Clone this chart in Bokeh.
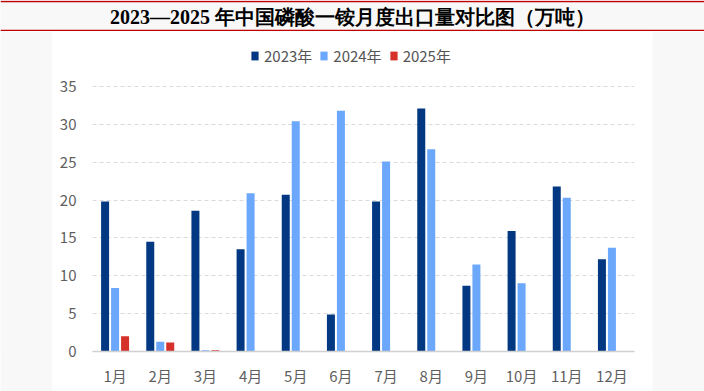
from bokeh.plotting import figure
from bokeh.models import ColumnDataSource, FactorRange, Range1d, FixedTicker, Legend, LegendItem
from bokeh.transform import dodge
from bokeh.layouts import column, row
from bokeh.core.properties import value
from bokeh.embed import file_html
from bokeh.resources import INLINE

# ---- data ----
months = ["1月", "2月", "3月", "4月", "5月", "6月", "7月", "8月", "9月", "10月", "11月", "12月"]
y2023 = [19.8, 14.5, 18.6, 13.5, 20.7, 4.9, 19.8, 32.1, 8.7, 15.9, 21.8, 12.2]
y2024 = [8.4, 1.3, 0.15, 20.9, 30.4, 31.8, 25.1, 26.7, 11.5, 9.0, 20.3, 13.7]
months2025 = ["1月", "2月", "3月"]
y2025 = [2.0, 1.2, 0.15]
y_ticks = [0, 5, 10, 15, 20, 25, 30, 35]
series_names = ["2023年", "2024年", "2025年"]
title_text = "2023—2025 年中国磷酸一铵月度出口量对比图（万吨）"

GRAY = "#f8f8f8"
C2023 = "#023882"
C2024 = "#6ba7fb"
C2025 = "#d5312a"
LABEL_FONT = "Noto Sans CJK SC"

W = 704
TH = 31
MH = 391 - TH


def blank(w, h, fill=GRAY):
    f = figure(width=w, height=h, x_axis_location=None, y_axis_location=None,
               toolbar_location=None, output_backend="svg", min_border=0,
               background_fill_color=fill, border_fill_color=fill,
               outline_line_color=None)
    f.grid.visible = False
    return f


# ---- title band ----
tp = figure(width=W, height=TH, x_range=Range1d(0, W), y_range=Range1d(0, TH),
            x_axis_location=None, y_axis_location=None, toolbar_location=None,
            output_backend="svg", min_border=0, background_fill_color=GRAY,
            border_fill_color=GRAY, outline_line_color=None)
tp.grid.visible = False
tp.text(x=[W / 2], y=[TH / 2 - 0.5], text=[title_text], text_align="center", text_baseline="middle",
        text_font=value("Liberation Serif"), text_font_style="bold", text_font_size="20px",
        text_color="#000000")
tp.hspan(y=[TH - 0.75, 0.75], line_color="#c00000", line_width=1.5)

# ---- main chart ----
PANEL_TOP = TH
AXIS_Y = 351
MB_BOTTOM = MH - (AXIS_Y - PANEL_TOP)
MB_TOP = 9
FRAME_H = MH - MB_TOP - MB_BOTTOM
PX_PER_UNIT = (351 - 86) / 35.0
ytop = FRAME_H / PX_PER_UNIT

p = figure(width=600, height=MH, x_range=FactorRange(factors=months, range_padding=0),
           y_range=Range1d(0, ytop), toolbar_location=None, output_backend="svg",
           min_border_left=40, min_border_right=18, min_border_top=MB_TOP,
           min_border_bottom=MB_BOTTOM,
           background_fill_color="white", border_fill_color="white", outline_line_color=None)

s1 = ColumnDataSource(dict(month=months, v=y2023))
s2 = ColumnDataSource(dict(month=months, v=y2024))
s3 = ColumnDataSource(dict(month=months2025, v=y2025))

off = 10.0 / 45.2
bw = 8.0 / 45.2
r1 = p.vbar(x=dodge("month", -off, range=p.x_range), top="v", width=bw, source=s1,
            fill_color=C2023, line_color=None)
r2 = p.vbar(x=dodge("month", 0, range=p.x_range), top="v", width=bw, source=s2,
            fill_color=C2024, line_color=None)
r3 = p.vbar(x=dodge("month", off, range=p.x_range), top="v", width=bw, source=s3,
            fill_color=C2025, line_color=None)

p.xgrid.visible = False
p.ygrid.grid_line_color = "#dadada"
p.ygrid.grid_line_dash = "4 3"
p.ygrid.grid_line_width = 1
p.yaxis.ticker = FixedTicker(ticks=y_ticks)

for ax in (p.xaxis, p.yaxis):
    ax.major_tick_line_color = None
    ax.minor_tick_line_color = None
    ax.major_label_text_font = LABEL_FONT
    ax.major_label_text_font_size = "15px"
    ax.major_label_text_color = "#5f5f5f"
p.yaxis.axis_line_color = None
p.yaxis.major_label_standoff = 10
p.xaxis.axis_line_color = "#d0d0d0"
p.xaxis.axis_line_width = 1.5
p.xaxis.major_label_standoff = 7

legend = Legend(items=[LegendItem(label=series_names[0], renderers=[r1]),
                       LegendItem(label=series_names[1], renderers=[r2]),
                       LegendItem(label=series_names[2], renderers=[r3])],
                orientation="horizontal", location=(158, 285),
                glyph_width=9, glyph_height=11, label_height=15, label_standoff=5,
                spacing=7, padding=0, margin=0,
                label_text_font=LABEL_FONT, label_text_font_size="15px",
                label_text_color="#555555", background_fill_alpha=0,
                border_line_color=None)
p.add_layout(legend)

layout = column(tp, row(blank(52, MH), p, blank(52, MH), spacing=0), spacing=0)

open("out.html", "w").write(file_html(layout, INLINE))
